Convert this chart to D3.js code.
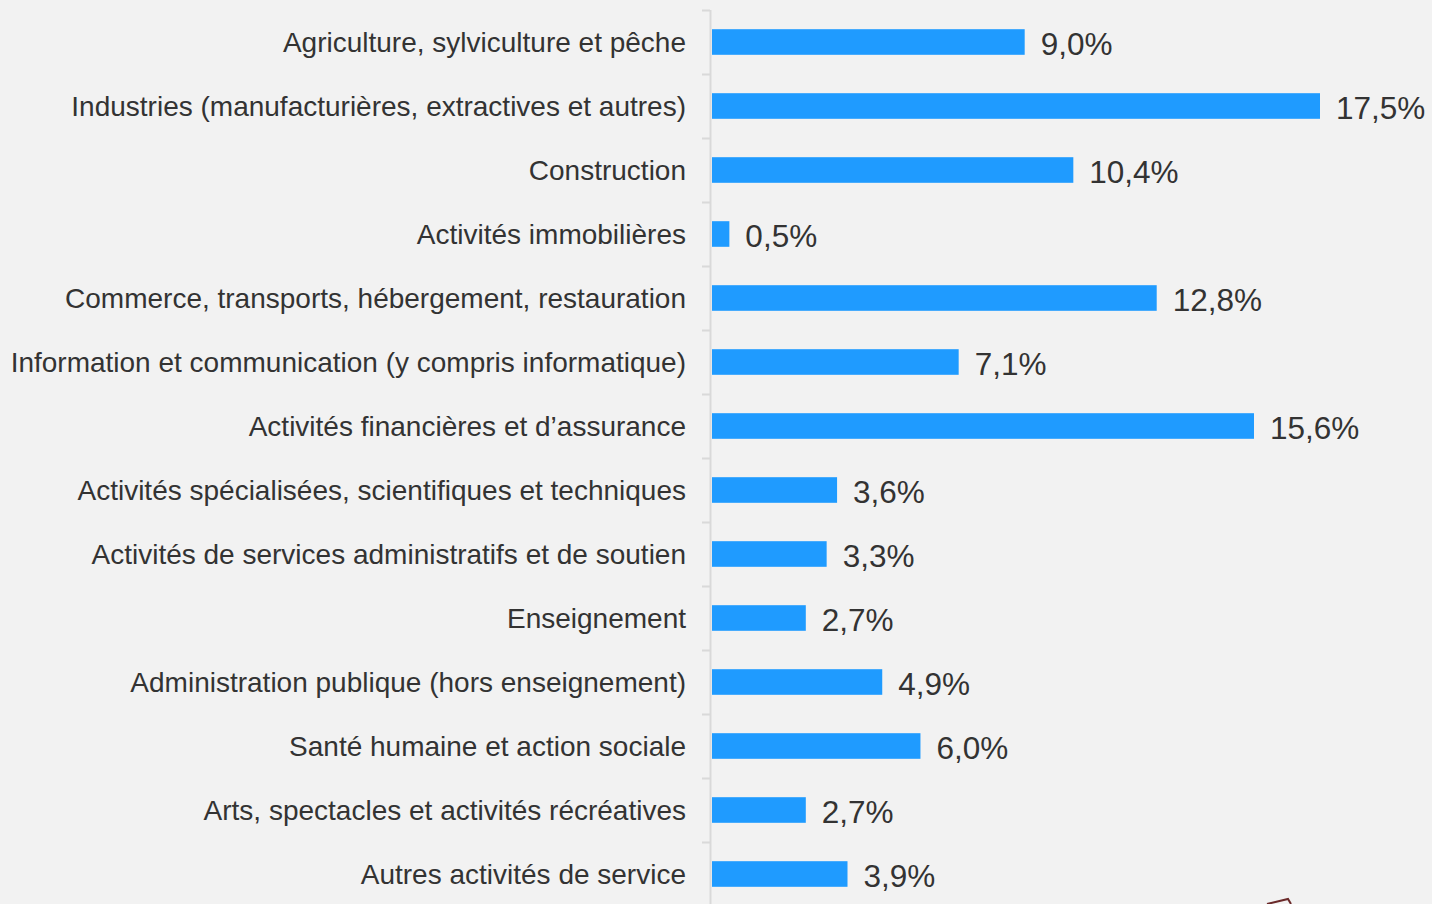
<!DOCTYPE html>
<html>
<head>
<meta charset="utf-8">
<script src="https://cdn.jsdelivr.net/npm/d3@7"></script>
<style>
  html, body { margin: 0; padding: 0; background: #f2f2f2; }
  svg { display: block; }
</style>
</head>
<body>
<div id="chart"></div>
<script>
var categories = [
    "Agriculture, sylviculture et pêche",
    "Industries (manufacturières, extractives et autres)",
    "Construction",
    "Activités immobilières",
    "Commerce, transports, hébergement, restauration",
    "Information et communication (y compris informatique)",
    "Activités financières et d\u2019assurance",
    "Activités spécialisées, scientifiques et techniques",
    "Activités de services administratifs et de soutien",
    "Enseignement",
    "Administration publique (hors enseignement)",
    "Santé humaine et action sociale",
    "Arts, spectacles et activités récréatives",
    "Autres activités de service"
];
var values = [9.0, 17.5, 10.4, 0.5, 12.8, 7.1, 15.6, 3.6, 3.3, 2.7, 4.9, 6.0, 2.7, 3.9];

var width = 1432;
var height = 904;

var svg = d3.select("#chart").append("svg")
    .attr("width", width)
    .attr("height", height);

svg.append("rect")
    .attr("width", width)
    .attr("height", height)
    .attr("fill", "#f2f2f2");

var data = categories.map(function(c, i) {
    return { name: c, value: values[i] };
});

var y = d3.scaleBand()
    .domain(categories)
    .range([10, 10 + 64 * categories.length])
    .paddingInner(0.6)
    .paddingOuter(0.3);

var x = d3.scaleLinear()
    .domain([0, 17.5])
    .range([712, 1320]);

var fmt = function(v) {
    return d3.format(".1f")(v).replace(".", ",") + "%";
};

// axis line and tick marks at band boundaries
var axis = svg.append("g").attr("class", "axis");
axis.append("line")
    .attr("x1", 710.5).attr("x2", 710.5)
    .attr("y1", 10).attr("y2", height + 10)
    .attr("stroke", "#d9d9d9")
    .attr("stroke-width", 2);

axis.selectAll("line.tick")
    .data(d3.range(categories.length + 1))
    .join("line")
    .attr("class", "tick")
    .attr("x1", 702).attr("x2", 710)
    .attr("y1", function(i) { return 10.5 + i * y.step(); })
    .attr("y2", function(i) { return 10.5 + i * y.step(); })
    .attr("stroke", "#d9d9d9")
    .attr("stroke-width", 2);

svg.append("g")
    .attr("class", "bars")
    .selectAll("rect")
    .data(data)
    .join("rect")
    .attr("x", x(0))
    .attr("y", function(d) { return y(d.name); })
    .attr("width", function(d) { return x(d.value) - x(0); })
    .attr("height", y.bandwidth())
    .attr("fill", "#1f9bff");

svg.append("g")
    .attr("class", "names")
    .selectAll("text")
    .data(data)
    .join("text")
    .attr("x", 686)
    .attr("y", function(d) { return y(d.name) + y.bandwidth() / 2; })
    .attr("dy", "0.36em")
    .attr("text-anchor", "end")
    .attr("font-family", "Liberation Sans, Arial, sans-serif")
    .attr("font-size", 28)
    .attr("fill", "#333333")
    .text(function(d) { return d.name; });

svg.append("g")
    .attr("class", "values")
    .selectAll("text")
    .data(data)
    .join("text")
    .attr("x", function(d) { return x(d.value) + 16; })
    .attr("y", function(d) { return y(d.name) + y.bandwidth() / 2; })
    .attr("dy", "0.4em")
    .attr("font-family", "Liberation Sans, Arial, sans-serif")
    .attr("font-size", 31.5)
    .attr("fill", "#333333")
    .text(function(d) { return fmt(d.value); });

// corner of a logo cut by the bottom edge
svg.append("path")
    .attr("d", "M1267,904 L1288,899 L1291,904")
    .attr("fill", "none")
    .attr("stroke", "#6b2a2a")
    .attr("stroke-width", 2);
</script>
</body>
</html>
